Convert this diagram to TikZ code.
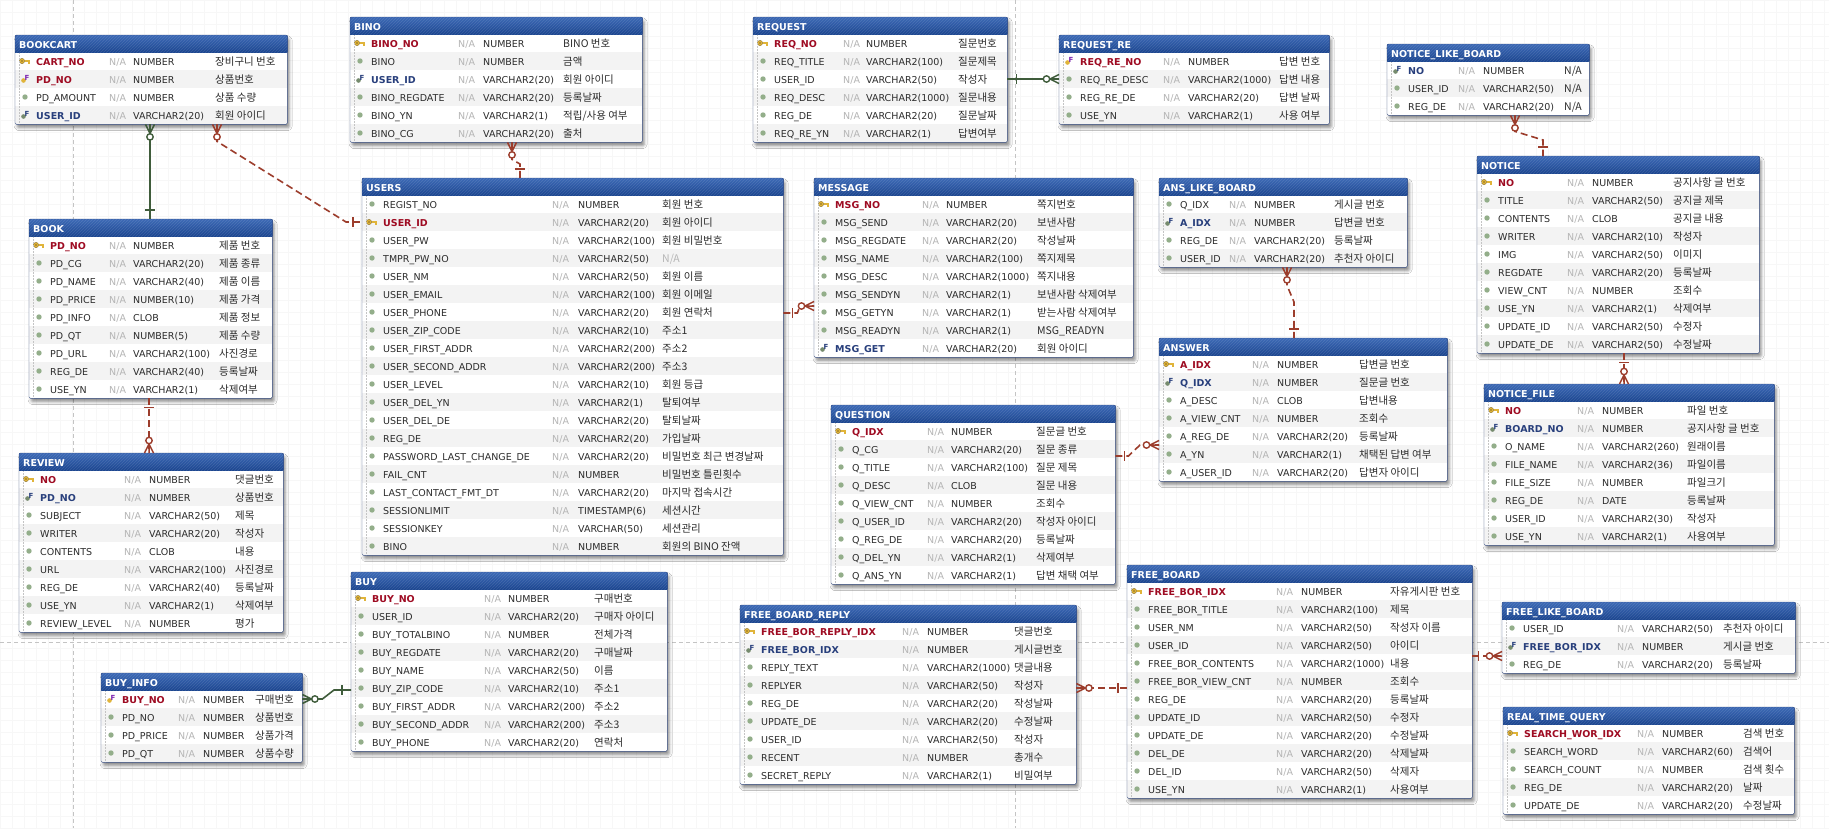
\documentclass[tikz,border=0pt]{standalone}
\usepackage{fontspec}
\setmainfont{DejaVu Sans}
\newfontfamily\kr{Noto Sans CJK KR}
\usetikzlibrary{shadows.blur,patterns}

\definecolor{pkred}{HTML}{9E0B22}
\definecolor{fkblue}{HTML}{283F7C}
\definecolor{coltext}{HTML}{2B2B2B}
\definecolor{nagray}{HTML}{B5B5B5}
\definecolor{rowgray}{HTML}{F3F3F3}
\definecolor{tableline}{HTML}{3C5286}
\definecolor{hdtop}{HTML}{3D6AB6}
\definecolor{hdbot}{HTML}{1C4690}
\definecolor{relred}{HTML}{9C3D2C}
\definecolor{relgreen}{HTML}{3F5C3B}
\definecolor{dotgreen}{HTML}{93AE8A}
\definecolor{keygold}{HTML}{E0B43A}
\definecolor{pagebreak}{HTML}{C4C4C4}
\definecolor{gridgray}{HTML}{F7F7F7}

\tikzset{
  tablebox/.style={anchor=north west, fill=white, inner sep=0pt, rounded corners=1.5pt,
    blur shadow={shadow xshift=2pt, shadow yshift=-3.5pt, shadow blur radius=3pt, shadow opacity=45}},
  cell/.style={anchor=base west, inner sep=0pt, text=coltext, font=\fontsize{9.5}{11}\selectfont},
  nacell/.style={cell, text=nagray},
  comcell/.style={cell, font=\kr\fontsize{10.5}{12}\selectfont},
  title/.style={anchor=base west, inner sep=0pt, text=white, font=\bfseries\fontsize{9.5}{11}\selectfont},
  reldash/.style={draw=relred, line width=1.6pt, dash pattern=on 7pt off 4pt},
  relsolid/.style={draw=relgreen, line width=1.6pt},
  pics/manyend/.style={code={
    \draw[solid, line width=1.5pt] (0,-4.5) -- (9,0) (0,0) -- (9,0) (0,4.5) -- (9,0);
    \draw[solid, fill=white, line width=1.4pt] (12.5,0) circle (3.2pt);}},
  pics/oneend/.style={code={\draw[solid, line width=1.5pt] (9,-5) -- (9,5);}}
}

\newcommand\ericonn{\fill[dotgreen] (0,0) circle (2.7pt);}
\newcommand\ericonp{%
  \fill[keygold, draw=keygold!60!black, line width=.4pt] (-3,0) circle (2.6pt);
  \fill[keygold!60!black] (-3,0) circle (0.8pt);
  \fill[keygold] (-0.5,-1) rectangle (5,1);
  \fill[keygold] (3,1) rectangle (4.5,2.5);}
\newcommand\ericonf{%
  \fill[dotgreen!80!black] (-1.5,1.5) circle (2.3pt);
  \node[inner sep=0pt, text=fkblue, font=\bfseries\fontsize{7}{7}\selectfont] at (2,-1.5) {F};}
\newcommand\ericonx{%
  \fill[keygold] (-1.5,1.5) circle (2.3pt);
  \node[inner sep=0pt, text=fkblue!60!magenta, font=\bfseries\fontsize{7}{7}\selectfont] at (2,-1.5) {F};}
\newcommand\ernamen[1]{#1}
\newcommand\ernamep[1]{\textcolor{pkred}{\bfseries #1}}
\newcommand\ernamex[1]{\textcolor{pkred}{\bfseries #1}}
\newcommand\ernamef[1]{\textcolor{fkblue}{\bfseries #1}}
\newcommand\grayna{\textcolor{nagray}{N/A}}

% #1 node, #2 title, #3 #4 top left, #5 width, #6 #7 #8 column offsets, #9 rows
\newcommand\ertable[9]{%
  \gdef\ernrows{0}%
  \foreach \r in {#9} {\xdef\ernrows{\the\numexpr\ernrows+1\relax}}%
  \node[tablebox, minimum width=#5pt, minimum height={(17+18*\ernrows)*1pt}] (#1) at (#3,#4) {};
  \foreach \kind/\col/\typ/\com [count=\i] in {#9} {
    \pgfmathsetmacro\rtop{#4+17+18*(\i-1)}
    \ifodd\i\else\fill[rowgray] (#3,\rtop) rectangle ++(#5,18);\fi
    \begin{scope}[shift={(#3+10,\rtop+9)}]\csname ericon\kind\endcsname\end{scope}
    \node[cell] at (#3+21,\rtop+13) {\csname ername\kind\endcsname{\col}};
    \node[nacell] at (#3+#6,\rtop+13) {N/A};
    \node[cell] at (#3+#7,\rtop+13) {\typ};
    \node[comcell] at (#3+#8,\rtop+13) {\com};
  }
  \draw[pagebreak, dash pattern=on 1.5pt off 1.5pt] ([xshift=4pt,yshift=-17pt]#1.north west) -- ([xshift=4pt]#1.south west);
  \fill[top color=hdtop, bottom color=hdbot] (#1.north west) rectangle ([yshift=-17pt]#1.north east);
  \fill[pattern=north east lines, pattern color=white, opacity=.12] (#1.north west) rectangle ([yshift=-17pt]#1.north east);
  \node[title] at (#3+4,#4+13) {#2};
  \draw[tableline, rounded corners=1.5pt] (#1.north west) rectangle (#1.south east);
}

\begin{document}
\catcode`\_=12
\begin{tikzpicture}[x=1pt,y=-1pt]
\useasboundingbox (0,0) rectangle (1829,828);
\fill[white] (0,0) rectangle (1829,828);
\draw[gridgray, line width=.4pt] (0,0) grid[step=12pt] (1829,828);
\draw[pagebreak, dash pattern=on 4pt off 3pt] (73,0) -- (73,828) (1015,0) -- (1015,828) (0,642) -- (1829,642);

\ertable{bookcart}{BOOKCART}{15}{35}{272}{94}{118}{200}{
  p/CART_NO/NUMBER/장비구니 번호, x/PD_NO/NUMBER/상품번호, n/PD_AMOUNT/NUMBER/상품 수량,
  f/USER_ID/VARCHAR2(20)/회원 아이디}
\ertable{book}{BOOK}{29}{219}{243}{80}{104}{190}{
  p/PD_NO/NUMBER/제품 번호, n/PD_CG/VARCHAR2(20)/제품 종류, n/PD_NAME/VARCHAR2(40)/제품 이름,
  n/PD_PRICE/NUMBER(10)/제품 가격, n/PD_INFO/CLOB/제품 정보, n/PD_QT/NUMBER(5)/제품 수량,
  n/PD_URL/VARCHAR2(100)/사진경로, n/REG_DE/VARCHAR2(40)/등록날짜, n/USE_YN/VARCHAR2(1)/삭제여부}
\ertable{review}{REVIEW}{19}{453}{264}{105}{130}{216}{
  p/NO/NUMBER/댓글번호, f/PD_NO/NUMBER/상품번호, n/SUBJECT/VARCHAR2(50)/제목,
  n/WRITER/VARCHAR2(20)/작성자, n/CONTENTS/CLOB/내용, n/URL/VARCHAR2(100)/사진경로,
  n/REG_DE/VARCHAR2(40)/등록날짜, n/USE_YN/VARCHAR2(1)/삭제여부, n/REVIEW_LEVEL/NUMBER/평가}
\ertable{buyinfo}{BUY_INFO}{101}{673}{201}{77}{102}{154}{
  x/BUY_NO/NUMBER/구매번호, n/PD_NO/NUMBER/상품번호, n/PD_PRICE/NUMBER/상품가격, n/PD_QT/NUMBER/상품수량}
\ertable{bino}{BINO}{350}{17}{292}{108}{133}{213}{
  p/BINO_NO/NUMBER/BINO 번호, n/BINO/NUMBER/금액, f/USER_ID/VARCHAR2(20)/회원 아이디,
  n/BINO_REGDATE/VARCHAR2(20)/등록날짜, n/BINO_YN/VARCHAR2(1)/{적립/사용 여부}, n/BINO_CG/VARCHAR2(20)/출처}
\ertable{users}{USERS}{362}{178}{421}{190}{216}{300}{
  n/REGIST_NO/NUMBER/회원 번호, p/USER_ID/VARCHAR2(20)/회원 아이디, n/USER_PW/VARCHAR2(100)/회원 비밀번호,
  n/TMPR_PW_NO/VARCHAR2(50)/\grayna, n/USER_NM/VARCHAR2(50)/회원 이름, n/USER_EMAIL/VARCHAR2(100)/회원 이메일,
  n/USER_PHONE/VARCHAR2(20)/회원 연락처, n/USER_ZIP_CODE/VARCHAR2(10)/주소1,
  n/USER_FIRST_ADDR/VARCHAR2(200)/주소2, n/USER_SECOND_ADDR/VARCHAR2(200)/주소3,
  n/USER_LEVEL/VARCHAR2(10)/회원 등급, n/USER_DEL_YN/VARCHAR2(1)/탈퇴여부, n/USER_DEL_DE/VARCHAR2(20)/탈퇴날짜,
  n/REG_DE/VARCHAR2(20)/가입날짜, n/PASSWORD_LAST_CHANGE_DE/VARCHAR2(20)/비밀번호 최근 변경날짜,
  n/FAIL_CNT/NUMBER/비밀번호 틀린횟수, n/LAST_CONTACT_FMT_DT/VARCHAR2(20)/마지막 접속시간,
  n/SESSIONLIMIT/TIMESTAMP(6)/세션시간, n/SESSIONKEY/VARCHAR(50)/세션관리, n/BINO/NUMBER/회원의 BINO 잔액}
\ertable{buy}{BUY}{351}{572}{316}{133}{157}{243}{
  p/BUY_NO/NUMBER/구매번호, n/USER_ID/VARCHAR2(20)/구매자 아이디, n/BUY_TOTALBINO/NUMBER/전체가격,
  n/BUY_REGDATE/VARCHAR2(20)/구매날짜, n/BUY_NAME/VARCHAR2(50)/이름, n/BUY_ZIP_CODE/VARCHAR2(10)/주소1,
  n/BUY_FIRST_ADDR/VARCHAR2(200)/주소2, n/BUY_SECOND_ADDR/VARCHAR2(200)/주소3, n/BUY_PHONE/VARCHAR2(20)/연락처}
\ertable{request}{REQUEST}{753}{17}{254}{90}{113}{205}{
  p/REQ_NO/NUMBER/질문번호, n/REQ_TITLE/VARCHAR2(100)/질문제목, n/USER_ID/VARCHAR2(50)/작성자,
  n/REQ_DESC/VARCHAR2(1000)/질문내용, n/REG_DE/VARCHAR2(20)/질문날짜, n/REQ_RE_YN/VARCHAR2(1)/답변여부}
\ertable{requestre}{REQUEST_RE}{1059}{35}{270}{104}{129}{220}{
  x/REQ_RE_NO/NUMBER/답변 번호, n/REQ_RE_DESC/VARCHAR2(1000)/답변 내용,
  n/REG_RE_DE/VARCHAR2(20)/답변 날짜, n/USE_YN/VARCHAR2(1)/사용 여부}
\ertable{message}{MESSAGE}{814}{178}{319}{108}{132}{223}{
  p/MSG_NO/NUMBER/쪽지번호, n/MSG_SEND/VARCHAR2(20)/보낸사람, n/MSG_REGDATE/VARCHAR2(20)/작성날짜,
  n/MSG_NAME/VARCHAR2(100)/쪽지제목, n/MSG_DESC/VARCHAR2(1000)/쪽지내용,
  n/MSG_SENDYN/VARCHAR2(1)/보낸사람 삭제여부, n/MSG_GETYN/VARCHAR2(1)/받는사람 삭제여부,
  n/MSG_READYN/VARCHAR2(1)/MSG_READYN, f/MSG_GET/VARCHAR2(20)/회원 아이디}
\ertable{alb}{ANS_LIKE_BOARD}{1159}{178}{248}{70}{95}{175}{
  n/Q_IDX/NUMBER/게시글 번호, f/A_IDX/NUMBER/답변글 번호, n/REG_DE/VARCHAR2(20)/등록날짜,
  n/USER_ID/VARCHAR2(20)/추천자 아이디}
\ertable{answer}{ANSWER}{1159}{338}{288}{93}{118}{200}{
  p/A_IDX/NUMBER/답변글 번호, f/Q_IDX/NUMBER/질문글 번호, n/A_DESC/CLOB/답변내용, n/A_VIEW_CNT/NUMBER/조회수,
  n/A_REG_DE/VARCHAR2(20)/등록날짜, n/A_YN/VARCHAR2(1)/채택된 답변 여부, n/A_USER_ID/VARCHAR2(20)/답변자 아이디}
\ertable{question}{QUESTION}{831}{405}{284}{96}{120}{205}{
  p/Q_IDX/NUMBER/질문글 번호, n/Q_CG/VARCHAR2(20)/질문 종류, n/Q_TITLE/VARCHAR2(100)/질문 제목,
  n/Q_DESC/CLOB/질문 내용, n/Q_VIEW_CNT/NUMBER/조회수, n/Q_USER_ID/VARCHAR2(20)/작성자 아이디,
  n/Q_REG_DE/VARCHAR2(20)/등록날짜, n/Q_DEL_YN/VARCHAR2(1)/삭제여부, n/Q_ANS_YN/VARCHAR2(1)/답변 채택 여부}
\ertable{fbr}{FREE_BOARD_REPLY}{740}{605}{336}{162}{187}{274}{
  p/FREE_BOR_REPLY_IDX/NUMBER/댓글번호, f/FREE_BOR_IDX/NUMBER/게시글번호, n/REPLY_TEXT/VARCHAR2(1000)/댓글내용,
  n/REPLYER/VARCHAR2(50)/작성자, n/REG_DE/VARCHAR2(20)/작성날짜, n/UPDATE_DE/VARCHAR2(20)/수정날짜,
  n/USER_ID/VARCHAR2(50)/작성자, n/RECENT/NUMBER/총개수, n/SECRET_REPLY/VARCHAR2(1)/비밀여부}
\ertable{freeboard}{FREE_BOARD}{1127}{565}{345}{149}{174}{263}{
  p/FREE_BOR_IDX/NUMBER/자유게시판 번호, n/FREE_BOR_TITLE/VARCHAR2(100)/제목, n/USER_NM/VARCHAR2(50)/작성자 이름,
  n/USER_ID/VARCHAR2(50)/아이디, n/FREE_BOR_CONTENTS/VARCHAR2(1000)/내용, n/FREE_BOR_VIEW_CNT/NUMBER/조회수,
  n/REG_DE/VARCHAR2(20)/등록날짜, n/UPDATE_ID/VARCHAR2(50)/수정자, n/UPDATE_DE/VARCHAR2(20)/수정날짜,
  n/DEL_DE/VARCHAR2(20)/삭제날짜, n/DEL_ID/VARCHAR2(50)/삭제자, n/USE_YN/VARCHAR2(1)/사용여부}
\ertable{nlb}{NOTICE_LIKE_BOARD}{1387}{44}{202}{71}{96}{177}{
  f/NO/NUMBER/{N/A}, n/USER_ID/VARCHAR2(50)/{N/A}, n/REG_DE/VARCHAR2(20)/{N/A}}
\ertable{notice}{NOTICE}{1477}{156}{282}{90}{115}{196}{
  p/NO/NUMBER/공지사항 글 번호, n/TITLE/VARCHAR2(50)/공지글 제목, n/CONTENTS/CLOB/공지글 내용,
  n/WRITER/VARCHAR2(10)/작성자, n/IMG/VARCHAR2(50)/이미지, n/REGDATE/VARCHAR2(20)/등록날짜,
  n/VIEW_CNT/NUMBER/조회수, n/USE_YN/VARCHAR2(1)/삭제여부, n/UPDATE_ID/VARCHAR2(50)/수정자,
  n/UPDATE_DE/VARCHAR2(50)/수정날짜}
\ertable{noticefile}{NOTICE_FILE}{1484}{384}{290}{93}{118}{203}{
  p/NO/NUMBER/파일 번호, f/BOARD_NO/NUMBER/공지사항 글 번호, n/O_NAME/VARCHAR2(260)/원래이름,
  n/FILE_NAME/VARCHAR2(36)/파일이름, n/FILE_SIZE/NUMBER/파일크기, n/REG_DE/DATE/등록날짜,
  n/USER_ID/VARCHAR2(30)/작성자, n/USE_YN/VARCHAR2(1)/사용여부}
\ertable{flb}{FREE_LIKE_BOARD}{1502}{602}{293}{115}{140}{221}{
  n/USER_ID/VARCHAR2(50)/추천자 아이디, f/FREE_BOR_IDX/NUMBER/게시글 번호, n/REG_DE/VARCHAR2(20)/등록날짜}
\ertable{rtq}{REAL_TIME_QUERY}{1503}{707}{291}{134}{159}{240}{
  p/SEARCH_WOR_IDX/NUMBER/검색 번호, n/SEARCH_WORD/VARCHAR2(60)/검색어, n/SEARCH_COUNT/NUMBER/검색 횟수,
  n/REG_DE/VARCHAR2(20)/날짜, n/UPDATE_DE/VARCHAR2(20)/수정날짜}

\draw[relsolid] ([xshift=135pt]bookcart.south west) -- ([xshift=121pt]book.north west);
\pic[relgreen, rotate=-90] at ([xshift=135pt]bookcart.south west) {manyend};
\pic[relgreen, rotate=90] at ([xshift=121pt]book.north west) {oneend};

\draw[reldash] ([xshift=202pt]bookcart.south west) -- ++(0,17) -- ([xshift=-16pt,yshift=-44pt]users.north west) -- ([yshift=-44pt]users.north west);
\pic[relred, rotate=-90] at ([xshift=202pt]bookcart.south west) {manyend};
\pic[relred, rotate=180] at ([yshift=-44pt]users.north west) {oneend};

\draw[reldash] ([xshift=162pt]bino.south west) -- ++(0,17) -- ([xshift=158pt,yshift=14pt]users.north west) -- ([xshift=158pt]users.north west);
\pic[relred, rotate=-90] at ([xshift=162pt]bino.south west) {manyend};
\pic[relred, rotate=90] at ([xshift=158pt]users.north west) {oneend};

\draw[reldash] ([xshift=120pt]book.south west) -- ([xshift=130pt]review.north west);
\pic[relred, rotate=-90] at ([xshift=120pt]book.south west) {oneend};
\pic[relred, rotate=90] at ([xshift=130pt]review.north west) {manyend};

\draw[relsolid] ([yshift=-26pt]buyinfo.north east) -- ++(20,0) -- ([xshift=-17pt,yshift=-118pt]buy.north west) -- ([yshift=-118pt]buy.north west);
\pic[relgreen] at ([yshift=-26pt]buyinfo.north east) {manyend};
\pic[relgreen, rotate=180] at ([yshift=-118pt]buy.north west) {oneend};

\draw[relsolid] ([yshift=-62pt]request.north east) -- ([yshift=-44pt]requestre.north west);
\pic[relgreen] at ([yshift=-62pt]request.north east) {oneend};
\pic[relgreen, rotate=180] at ([yshift=-44pt]requestre.north west) {manyend};

\draw[reldash] ([yshift=-135pt]users.north east) -- ++(14,0) -- ([xshift=-14pt,yshift=-128pt]message.north west) -- ([yshift=-128pt]message.north west);
\pic[relred] at ([yshift=-135pt]users.north east) {oneend};
\pic[relred, rotate=180] at ([yshift=-128pt]message.north west) {manyend};

\draw[reldash] ([xshift=128pt]alb.south west) -- ++(0,18) -- ([xshift=135pt,yshift=36pt]answer.north west) -- ([xshift=135pt]answer.north west);
\pic[relred, rotate=-90] at ([xshift=128pt]alb.south west) {manyend};
\pic[relred, rotate=90] at ([xshift=135pt]answer.north west) {oneend};

\draw[reldash] ([yshift=-51pt]question.north east) -- ++(13,0) -- ([xshift=-19pt,yshift=-107pt]answer.north west) -- ([yshift=-107pt]answer.north west);
\pic[relred] at ([yshift=-51pt]question.north east) {oneend};
\pic[relred, rotate=180] at ([yshift=-107pt]answer.north west) {manyend};

\draw[reldash] ([yshift=-83pt]fbr.north east) -- ([yshift=-123pt]freeboard.north west);
\pic[relred] at ([yshift=-83pt]fbr.north east) {manyend};
\pic[relred, rotate=180] at ([yshift=-123pt]freeboard.north west) {oneend};

\draw[reldash] ([yshift=-91pt]freeboard.north east) -- ([yshift=-54pt]flb.north west);
\pic[relred, xshift=-3pt] at ([yshift=-91pt]freeboard.north east) {oneend};
\pic[relred, rotate=180] at ([yshift=-54pt]flb.north west) {manyend};

\draw[reldash] ([xshift=128pt]nlb.south west) -- ++(0,16) -- ([xshift=66pt,yshift=16pt]notice.north west) -- ([xshift=66pt]notice.north west);
\pic[relred, rotate=-90] at ([xshift=128pt]nlb.south west) {manyend};
\pic[relred, rotate=90] at ([xshift=66pt]notice.north west) {oneend};

\draw[reldash] ([xshift=147pt]notice.south west) -- ([xshift=140pt]noticefile.north west);
\pic[relred, rotate=-90] at ([xshift=147pt]notice.south west) {oneend};
\pic[relred, rotate=90] at ([xshift=140pt]noticefile.north west) {manyend};
\end{tikzpicture}
\end{document}
